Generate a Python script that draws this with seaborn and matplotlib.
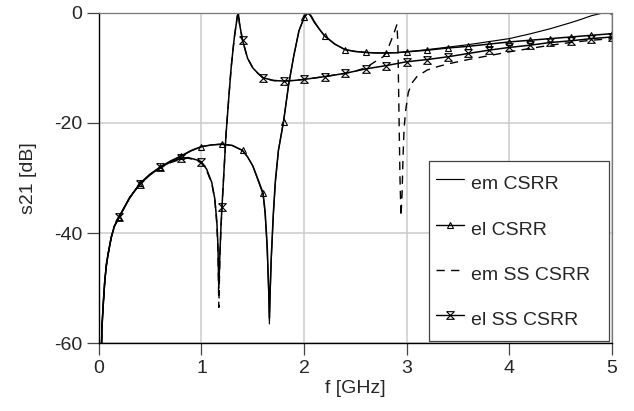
import numpy as np
import matplotlib
matplotlib.use("Agg")
import matplotlib.pyplot as plt
from matplotlib.lines import Line2D
import seaborn as sns

# ---------------- data ----------------
f_em = [0.026, 0.03, 0.042, 0.058, 0.075, 0.09, 0.12, 0.15, 0.2, 0.3, 0.4, 0.5, 0.6, 0.7, 0.8, 0.9,
        1.0, 1.1, 1.2, 1.3, 1.4, 1.45, 1.5, 1.55, 1.6, 1.62, 1.64, 1.655, 1.662, 1.67, 1.68, 1.7,
        1.72, 1.75, 1.8, 1.85, 1.9, 1.95, 2.0, 2.03, 2.06, 2.1, 2.15, 2.2, 2.3, 2.4, 2.5, 2.6,
        2.7, 2.8, 2.9, 3.0, 3.2, 3.4, 3.6, 3.8, 4.0, 4.2, 4.4, 4.6, 4.7, 4.8, 4.9, 4.95, 5.0]
s_em = [-60, -57, -53, -48.5, -45.5, -43.8, -40.8, -38.8, -36.9, -33.5, -31.0, -29.3, -28.0, -27.0, -26.1, -25.1,
        -24.3, -24.0, -23.8, -24.1, -25.0, -26.2, -27.8, -30.4, -33.0, -36.5, -43, -51, -56.5, -51, -45, -37,
        -31, -25, -19.6, -13, -7.8, -3.3, -0.9, 0.0, -0.5, -1.8, -3.0, -4.2, -5.7, -6.7, -7.0, -7.2,
        -7.3, -7.3, -7.25, -7.1, -6.7, -6.25, -5.8, -5.25, -4.7, -3.85, -2.9, -1.8, -1.2, -0.55, -0.1, 0.0, -0.25]

f_el = [0.026, 0.03, 0.042, 0.058, 0.075, 0.09, 0.12, 0.15, 0.2, 0.3, 0.4, 0.5, 0.6, 0.7, 0.8, 0.9,
        1.0, 1.1, 1.2, 1.3, 1.4, 1.45, 1.5, 1.55, 1.6, 1.62, 1.64, 1.655, 1.662, 1.67, 1.68, 1.7,
        1.72, 1.75, 1.8, 1.85, 1.9, 1.95, 2.0, 2.04, 2.07, 2.1, 2.15, 2.2, 2.3, 2.4, 2.5, 2.6,
        2.7, 2.8, 2.9, 3.0, 3.2, 3.4, 3.6, 3.8, 4.0, 4.2, 4.4, 4.6, 4.8, 5.0]
s_el = [-60, -57, -53, -48.5, -45.5, -43.8, -40.8, -38.8, -37.0, -33.6, -31.0, -29.3, -28.0, -26.9, -26.0, -25.0,
        -24.3, -24.0, -23.9, -24.1, -25.0, -26.2, -27.8, -30.2, -32.7, -36, -42, -50, -55.5, -50, -44.5, -36.5,
        -30.5, -25, -19.8, -13, -7.8, -3.3, -0.85, 0.0, -0.6, -1.6, -3.0, -4.2, -5.7, -6.7, -7.05, -7.2,
        -7.3, -7.3, -7.25, -7.1, -6.8, -6.4, -6.1, -5.7, -5.3, -5.0, -4.7, -4.4, -4.1, -3.8]

f_emss = [0.026, 0.03, 0.042, 0.058, 0.075, 0.09, 0.12, 0.15, 0.2, 0.3, 0.4, 0.5, 0.6, 0.7, 0.8, 0.87,
          0.95, 1.0, 1.05, 1.1, 1.13, 1.15, 1.16, 1.169, 1.18, 1.19, 1.2, 1.22, 1.24, 1.27, 1.29, 1.32,
          1.35, 1.36, 1.37, 1.4, 1.45, 1.5, 1.55, 1.6, 1.7, 1.8, 1.9, 2.0, 2.2, 2.4, 2.5, 2.6,
          2.7, 2.77, 2.8, 2.85, 2.88, 2.906, 2.915, 2.925, 2.935, 2.945, 2.955, 2.965, 2.975, 2.99, 3.0, 3.016,
          3.05, 3.1, 3.2, 3.3, 3.4, 3.6, 3.8, 4.0, 4.2, 4.4, 4.6, 4.8, 5.0]
s_emss = [-60, -57, -53, -48.5, -45.5, -43.8, -40.8, -38.8, -37.0, -33.6, -31.1, -29.4, -28.2, -27.2, -26.6, -26.4,
          -26.8, -27.3, -28.6, -31.0, -34.0, -38.5, -43, -53.5, -44, -39, -35.2, -28.5, -21.9, -14.5, -9.8, -4.5,
          -0.5, 0.0, -1.9, -5.0, -8.3, -10.0, -11.0, -11.8, -12.3, -12.4, -12.3, -12.1, -11.6, -11.0, -10.6, -10.0,
          -8.8, -8.0, -7.3, -5.0, -3.5, -2.1, -6, -18, -30, -37, -33, -26, -21, -17.8, -16.5, -14.5,
          -12.8, -11.6, -10.4, -9.8, -9.3, -8.5, -7.8, -7.1, -6.5, -5.9, -5.4, -5.0, -4.7]

f_elss = [0.026, 0.03, 0.042, 0.058, 0.075, 0.09, 0.12, 0.15, 0.2, 0.3, 0.4, 0.5, 0.6, 0.7, 0.8, 0.87,
          0.95, 1.0, 1.05, 1.1, 1.13, 1.15, 1.16, 1.169, 1.18, 1.19, 1.2, 1.22, 1.24, 1.27, 1.29, 1.32,
          1.35, 1.36, 1.37, 1.4, 1.45, 1.5, 1.55, 1.6, 1.7, 1.8, 1.9, 2.0, 2.2, 2.4, 2.6, 2.8,
          3.0, 3.2, 3.4, 3.6, 3.8, 4.0, 4.2, 4.4, 4.6, 4.8, 5.0]
s_elss = [-60, -57, -53, -48.5, -45.5, -43.8, -40.8, -38.8, -37.0, -33.6, -31.1, -29.4, -28.1, -27.1, -26.4, -26.3,
          -26.7, -27.1, -28.4, -30.8, -33.8, -38, -42, -50, -43.5, -38.8, -35.2, -28.5, -21.9, -14.5, -9.8, -4.5,
          -0.6, -0.2, -1.9, -5.0, -8.3, -10.0, -11.0, -11.8, -12.3, -12.4, -12.3, -12.1, -11.6, -11.0, -10.2, -9.6,
          -8.9, -8.5, -8.0, -7.4, -6.8, -6.3, -5.9, -5.4, -5.1, -4.7, -4.4]

labels = ["em CSRR", "el CSRR", "em SS CSRR", "el SS CSRR"]
x_ticks = [0, 1, 2, 3, 4, 5]
y_ticks = [-60, -40, -20, 0]

# ---------------- style ----------------
sns.set_theme(style="white")
plt.rcParams["font.family"] = ["Liberation Sans", "DejaVu Sans"]
plt.rcParams["axes.unicode_minus"] = False
FS = 14

fig, ax = plt.subplots(figsize=(6.34, 4.11), dpi=100)
fig.subplots_adjust(left=0.156, right=0.965, top=0.969, bottom=0.165)

hourglass = [(-1, 1), (1, 1), (-1, -1), (1, -1), (-1, 1)]


def mark_idx(f):
    f = np.asarray(f)
    q = f / 0.2
    return list(np.where(np.isclose(q, np.round(q)) & (f > 0.1))[0])


sns.lineplot(x=f_em, y=s_em, ax=ax, color="black", lw=0.85, sort=False, estimator=None)
sns.lineplot(x=f_el, y=s_el, ax=ax, color="black", lw=1.1, sort=False, estimator=None,
             marker="^", markersize=5, markerfacecolor="none", markeredgecolor="black",
             markeredgewidth=0.8, markevery=mark_idx(f_el))
sns.lineplot(x=f_emss, y=s_emss, ax=ax, color="black", lw=1.0, sort=False, estimator=None,
             dashes=(6, 4.5))
sns.lineplot(x=f_elss, y=s_elss, ax=ax, color="black", lw=1.1, sort=False, estimator=None,
             marker=hourglass, markersize=5.5, markerfacecolor="none", markeredgecolor="black",
             markeredgewidth=0.8, markevery=mark_idx(f_elss))

ax.set_xlim(0, 5)
ax.set_ylim(-60, 0)
ax.set_xticks(x_ticks)
ax.set_yticks(y_ticks)
ax.grid(True, color="#cccccc", lw=1.1)
ax.set_axisbelow(True)
ax.tick_params(axis="both", direction="out", length=8.5, width=0.9, color="#444444",
               labelsize=FS, pad=3.5, bottom=True, left=True)
ax.set_xlabel("f [GHz]", fontsize=FS, labelpad=2)
ax.set_ylabel("s21 [dB]", fontsize=FS, labelpad=12)

for side in ["left", "bottom"]:
    ax.spines[side].set_color("black")
    ax.spines[side].set_linewidth(1.0)
for side in ["top", "right"]:
    ax.spines[side].set_color("#777777")
    ax.spines[side].set_linewidth(0.9)

handles = [
    Line2D([], [], color="black", lw=0.85),
    Line2D([], [], color="black", lw=1.0, marker="^", markersize=5, markerfacecolor="none",
           markeredgewidth=0.8),
    Line2D([], [], color="black", lw=1.0, dashes=(6, 4.5)),
    Line2D([], [], color="black", lw=1.0, marker=hourglass, markersize=5.5, markerfacecolor="none",
           markeredgewidth=0.8),
]
leg = ax.legend(handles, labels, loc="lower left", bbox_to_anchor=(0.643, 0.007, 0.351, 0.5),
                mode="expand", borderaxespad=0, fontsize=FS, handlelength=1.4, handletextpad=0.36,
                handleheight=1.85, borderpad=0.4, labelspacing=0.88, fancybox=False,
                frameon=True, framealpha=1, edgecolor="#444444")
leg.get_frame().set_linewidth(0.9)

fig.savefig("out.png", dpi=100)
